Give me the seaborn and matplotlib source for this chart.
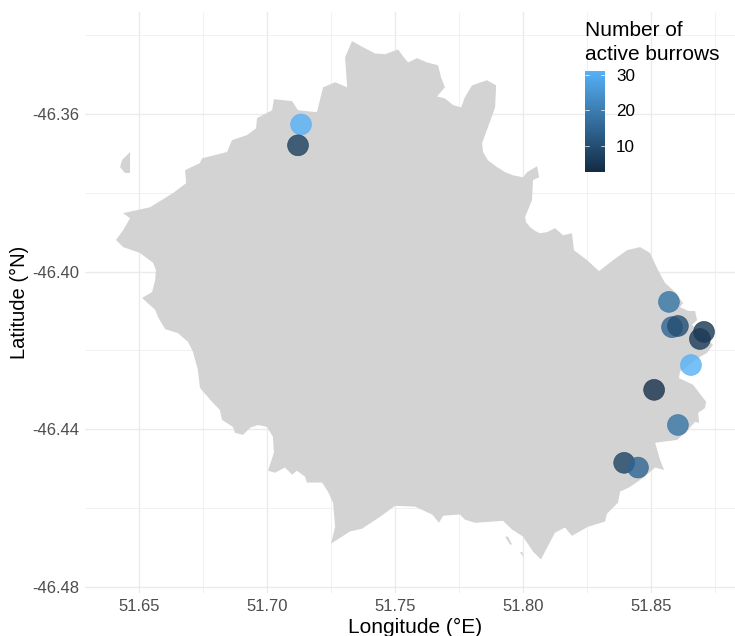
import matplotlib
matplotlib.use("Agg")
import matplotlib.pyplot as plt
import numpy as np
import pandas as pd
import seaborn as sns
from matplotlib.cm import ScalarMappable
from matplotlib.colors import LinearSegmentedColormap, Normalize

# island outline, clockwise from the northern headland
coast_lon = [
    51.7332, 51.7383, 51.7422, 51.7461, 51.7512, 51.7531, 51.7551, 51.7586, 51.7625, 51.7668,
    51.7680, 51.7695, 51.7664, 51.7695, 51.7727, 51.7758, 51.7773, 51.7801, 51.7859, 51.7895,
    51.7891, 51.7863, 51.7840, 51.7844, 51.7863, 51.7898, 51.7930, 51.7961, 51.8000, 51.8016, 51.8055, 51.8063,
    51.8039, 51.8035, 51.8008, 51.8012, 51.8027, 51.8047, 51.8066, 51.8094, 51.8125, 51.8156, 51.8191, 51.8199, 51.8250,
    51.8297, 51.8352, 51.8406, 51.8457, 51.8496, 51.8527, 51.8555, 51.8594, 51.8625, 51.8613,
    51.8645, 51.8672, 51.8680, 51.8660, 51.8742, 51.8719, 51.8684, 51.8613, 51.8609, 51.8664,
    51.8715, 51.8711, 51.8684, 51.8688, 51.8672, 51.8645, 51.8602, 51.8516, 51.8535, 51.8551,
    51.8516, 51.8469, 51.8418, 51.8379, 51.8371, 51.8328, 51.8320, 51.8254, 51.8191, 51.8164,
    51.8125, 51.8094, 51.8070, 51.8039, 51.8000, 51.7957, 51.7922, 51.7813, 51.7773, 51.7754,
    51.7688, 51.7672, 51.7645, 51.7578, 51.7500, 51.7441, 51.7371, 51.7324, 51.7250, 51.7266,
    51.7258, 51.7238, 51.7215, 51.7156, 51.7148, 51.7117, 51.7098, 51.7070, 51.7031, 51.7004,
    51.7027, 51.7023, 51.7000, 51.6965, 51.6934, 51.6906, 51.6875, 51.6867, 51.6824, 51.6816,
    51.6789, 51.6738, 51.6730, 51.6711, 51.6691, 51.6652, 51.6602, 51.6574, 51.6563, 51.6512,
    51.6551, 51.6563, 51.6566, 51.6555, 51.6504, 51.6438, 51.6410, 51.6438, 51.6465, 51.6438, 51.6543,
    51.6633, 51.6684, 51.6680, 51.6738, 51.6746, 51.6844, 51.6863, 51.6922, 51.6957, 51.6961,
    51.7020, 51.7027, 51.7098, 51.7121, 51.7195, 51.7219, 51.7266, 51.7313, 51.7305,
]
coast_lat = [
    -46.3416, -46.3434, -46.3447, -46.3449, -46.3437, -46.3454, -46.3470, -46.3459, -46.3470, -46.3477,
    -46.3508, -46.3533, -46.3556, -46.3561, -46.3578, -46.3584, -46.3558, -46.3528, -46.3515, -46.3528,
    -46.3584, -46.3634, -46.3675, -46.3697, -46.3718, -46.3735, -46.3748, -46.3756, -46.3761, -46.3748, -46.3733, -46.3761,
    -46.3768, -46.3819, -46.3862, -46.3875, -46.3887, -46.3897, -46.3903, -46.3900, -46.3890, -46.3908, -46.3903, -46.3946, -46.3971,
    -46.3999, -46.3971, -46.3946, -46.3938, -46.3953, -46.3996, -46.4029, -46.4052, -46.4080, -46.4090,
    -46.4100, -46.4100, -46.4123, -46.4135, -46.4186, -46.4206, -46.4219, -46.4254, -46.4270, -46.4287,
    -46.4330, -46.4346, -46.4358, -46.4384, -46.4381, -46.4401, -46.4427, -46.4434, -46.4477, -46.4503,
    -46.4497, -46.4523, -46.4546, -46.4558, -46.4586, -46.4614, -46.4634, -46.4647, -46.4670, -46.4649,
    -46.4662, -46.4700, -46.4730, -46.4710, -46.4672, -46.4654, -46.4632, -46.4637, -46.4629, -46.4616,
    -46.4619, -46.4637, -46.4616, -46.4596, -46.4594, -46.4622, -46.4652, -46.4659, -46.4690, -46.4647,
    -46.4586, -46.4558, -46.4535, -46.4535, -46.4520, -46.4505, -46.4515, -46.4497, -46.4510, -46.4505,
    -46.4459, -46.4419, -46.4394, -46.4389, -46.4396, -46.4414, -46.4409, -46.4394, -46.4376, -46.4351,
    -46.4333, -46.4295, -46.4249, -46.4204, -46.4178, -46.4156, -46.4146, -46.4115, -46.4097, -46.4067,
    -46.4052, -46.4022, -46.3996, -46.3978, -46.3953, -46.3938, -46.3920, -46.3895, -46.3865, -46.3852, -46.3837,
    -46.3801, -46.3776, -46.3743, -46.3725, -46.3713, -46.3697, -46.3667, -46.3654, -46.3637, -46.3611,
    -46.3591, -46.3563, -46.3568, -46.3591, -46.3596, -46.3533, -46.3520, -46.3533, -46.3457,
]
islet_lon = [51.6465, 51.6434, 51.6426, 51.6445, 51.6465]
islet_lat = [-46.3697, -46.3717, -46.3735, -46.3750, -46.3750]
south_islet_lon = [51.7930, 51.7941, 51.7957, 51.7949]
south_islet_lat = [-46.4672, -46.4672, -46.4692, -46.4692]
rock_lon = [51.7988, 51.7996, 51.8004]
rock_lat = [-46.4713, -46.4710, -46.4723]

# burrow sites
site_lon = [51.7133, 51.7121, 51.8570, 51.8582, 51.8605, 51.8707, 51.8691, 51.8656, 51.8512, 51.8605, 51.8395, 51.8449]
site_lat = [-46.3627, -46.3680, -46.4077, -46.4141, -46.4138, -46.4153, -46.4171, -46.4237, -46.4300, -46.4389, -46.4485, -46.4497]
burrows = [31, 7, 18, 15, 10, 5, 6, 31, 4, 18, 8, 15]

x_major = [51.65, 51.70, 51.75, 51.80, 51.85]
x_minor = [51.675, 51.725, 51.775, 51.825, 51.875]
y_major = [-46.48, -46.44, -46.40, -46.36]
y_minor = [-46.46, -46.42, -46.38, -46.34]
bar_ticks = [10, 20, 30]

sns.set_theme(style="whitegrid")
plt.rcParams["font.family"] = ["Liberation Sans", "DejaVu Sans"]

cmap = LinearSegmentedColormap.from_list("burrows", ["#132B43", "#56B1F7"])
norm = Normalize(2.7, 31)
sites = pd.DataFrame({"lon": site_lon, "lat": site_lat, "burrows": burrows})

fig = plt.figure(figsize=(7.35, 6.36), dpi=100)
ax = fig.add_axes([85 / 735, 43 / 636, 650 / 735, 581 / 636])

for lon, lat in [(coast_lon, coast_lat), (islet_lon, islet_lat),
                 (south_islet_lon, south_islet_lat), (rock_lon, rock_lat)]:
    ax.fill(lon, lat, color="#D3D3D3", lw=0, zorder=1)
sns.scatterplot(data=sites, x="lon", y="lat", hue="burrows", palette=cmap, hue_norm=norm,
                s=225, alpha=0.8, linewidth=0.5, edgecolor="face", legend=False, ax=ax, zorder=2)

ax.set_xlim(51.6289, 51.8828)
ax.set_ylim(-46.4815, -46.3342)
ax.set_xticks(x_major, [f"{v:.2f}" for v in x_major])
ax.set_yticks(y_major, [f"{v:.2f}" for v in y_major])
ax.set_xticks(x_minor, minor=True)
ax.set_yticks(y_minor, minor=True)
ax.grid(True, which="major", color="#EBEBEB", lw=1.0)
ax.grid(True, which="minor", color="#EFEFEF", lw=0.6)
ax.set_axisbelow(True)
ax.tick_params(which="both", length=0, labelsize=12, labelcolor="#4D4D4D", pad=4)
sns.despine(ax=ax, left=True, bottom=True, right=True, top=True)
ax.set_xlabel("")
ax.set_ylabel("")
fig.text(415 / 735, 1 - 627 / 636, "Longitude (°E)", fontsize=15, color="black", ha="center", va="center")
fig.text(19 / 735, 1 - 302 / 636, "Latitude (°N)", fontsize=14.5, color="black", ha="center", va="center", rotation=90)

# colour bar legend
cax = fig.add_axes([585 / 735, (636 - 172) / 636, 20 / 735, 101 / 636])
cbar = fig.colorbar(ScalarMappable(norm=norm, cmap=cmap), cax=cax)
cbar.set_ticks(bar_ticks)
cbar.outline.set_visible(False)
cax.tick_params(length=0, labelsize=12.3, labelcolor="black", pad=8)
cax.grid(False)
for t in bar_ticks:
    cax.plot([0, 0.2], [t, t], color="white", lw=0.5, transform=cax.get_yaxis_transform())
    cax.plot([0.8, 1], [t, t], color="white", lw=0.5, transform=cax.get_yaxis_transform())
fig.text(585 / 735, 1 - 64 / 636, "Number of\nactive burrows", fontsize=15, color="black",
         va="bottom", ha="left", linespacing=1.3)

fig.savefig("out.png", dpi=100)
